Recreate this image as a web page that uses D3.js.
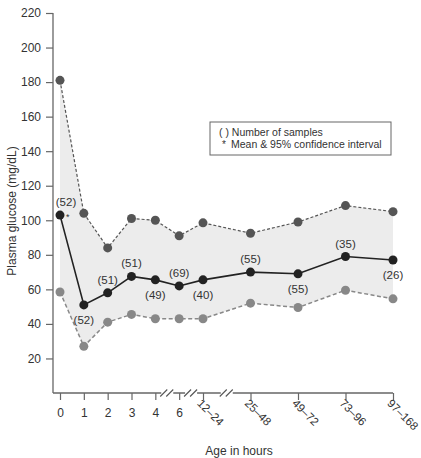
<!DOCTYPE html>
<html>
<head>
<meta charset="utf-8">
<script src="https://cdn.jsdelivr.net/npm/d3@7"></script>
<style>
  body { margin: 0; background: #fff; }
  text { font-family: "Liberation Sans", Arial, sans-serif; fill: #333; }
</style>
</head>
<body>
<div id="container"></div>
<script>
let w = 421;
let h = 458;

// DATA
let ages = ["0", "1", "2", "3", "4", "6", "12–24", "25–48", "49–72", "73–96", "97–168"];
let meanGlucose = [103, 51, 58, 67.5, 65.5, 62, 65.5, 70, 69, 79, 77];
let upperCI = [181, 104, 84, 101, 100, 91, 98.5, 92.5, 99, 108.5, 105];
let lowerCI = [58.5, 27, 41, 45.5, 43, 43, 43, 52, 49.5, 59.5, 54.5];
let sampleCounts = [52, 52, 51, 51, 49, 69, 40, 55, 55, 35, 26];
let countAbove = [true, false, true, true, false, true, false, true, false, true, false];
let yTicks = [20, 40, 60, 80, 100, 120, 140, 160, 180, 200, 220];

let viz = d3.select("#container").append("svg")
    .attr("width", w)
    .attr("height", h)
    .style("display", "block")
;

// SCALES - hours compress after "12-24" so the scale is piecewise
let xScale = d3.scaleLinear().domain([0, 6, 10]).range([60, 203, 393]);
let yScale = d3.scaleLinear().domain([0, 220]).range([393, 13]);

let idx = d3.range(ages.length);

// band between the confidence limits
let bandMaker = d3.area()
    .x(function(d){ return xScale(d); })
    .y0(function(d){ return yScale(lowerCI[d]); })
    .y1(function(d){ return yScale(upperCI[d]); })
;
viz.append("path")
    .datum(idx)
    .attr("d", bandMaker)
    .attr("fill", "#ececec")
;

// AXES
let yAxis = d3.axisLeft(yScale).tickValues(yTicks).tickSize(7).tickSizeOuter(0).tickPadding(5);
let yG = viz.append("g").attr("transform", "translate(53,0)").call(yAxis);
yG.select(".domain").attr("stroke", "#666").attr("stroke-width", 1.3)
    .attr("d", "M0," + yScale(220) + "V" + yScale(0));
yG.selectAll(".tick line").attr("stroke", "#666").attr("stroke-width", 1.2);
yG.selectAll(".tick text").style("font-size", "12px").attr("fill", "#333");

let xAxis = d3.axisBottom(xScale).tickValues(idx).tickSize(7).tickSizeOuter(0)
    .tickFormat(function(d){ return ages[d]; });
let xG = viz.append("g").attr("transform", "translate(0,393)").call(xAxis);
xG.select(".domain").attr("stroke", "#666").attr("stroke-width", 1.3)
    .attr("d", "M53,0H" + xScale(10));
xG.selectAll(".tick line").attr("stroke", "#666").attr("stroke-width", 1.2);
xG.selectAll(".tick text")
    .style("font-size", "12px")
    .attr("fill", "#333")
    .each(function(d){
      let t = d3.select(this);
      if (d >= 6) {
        t.attr("text-anchor", "start")
          .style("font-size", "11.5px")
          .attr("dy", null)
          .attr("y", 0)
          .attr("transform", "translate(-7,11) rotate(45)");
      } else {
        t.attr("y", 15).attr("dy", "0.71em");
      }
    })
;

// axis breaks
[4.5, 5.5, 6.5].forEach(function(b){
  let bx = xScale(b);
  xG.append("rect").attr("x", bx - 6).attr("y", -2).attr("width", 12).attr("height", 4).attr("fill", "#fff");
  [-3.5, 2.5].forEach(function(o){
    xG.append("line")
      .attr("x1", bx + o - 3.5).attr("y1", 3.5)
      .attr("x2", bx + o + 3.5).attr("y2", -3.5)
      .attr("stroke", "#555").attr("stroke-width", 1.1);
  });
});

// axis titles
viz.append("text")
    .attr("x", 239).attr("y", 455)
    .attr("text-anchor", "middle")
    .style("font-size", "12px")
    .text("Age in hours");
viz.append("text")
    .attr("transform", "translate(16,211) rotate(-90)")
    .attr("text-anchor", "middle")
    .style("font-size", "12px")
    .text("Plasma glucose (mg/dL)");

// LINES
let lineMaker = function(vals){
  return d3.line()
    .x(function(d){ return xScale(d); })
    .y(function(d){ return yScale(vals[d]); })(idx);
};

viz.append("path").attr("d", lineMaker(upperCI))
    .attr("fill", "none").attr("stroke", "#555").attr("stroke-width", 1.2).attr("stroke-dasharray", "3,2");
viz.append("path").attr("d", lineMaker(lowerCI))
    .attr("fill", "none").attr("stroke", "#888").attr("stroke-width", 1.5).attr("stroke-dasharray", "4,2.5");
viz.append("path").attr("d", lineMaker(meanGlucose))
    .attr("fill", "none").attr("stroke", "#222").attr("stroke-width", 1.6);

// POINTS
function drawPoints(vals, color, cls){
  viz.selectAll("." + cls).data(idx).enter()
    .append("circle")
      .attr("class", cls)
      .attr("cx", function(d){ return xScale(d); })
      .attr("cy", function(d){ return yScale(vals[d]); })
      .attr("r", 4.5)
      .attr("fill", color)
  ;
}
drawPoints(upperCI, "#555", "upper");
drawPoints(lowerCI, "#888", "lower");
drawPoints(meanGlucose, "#222", "mean");

// sample counts
viz.selectAll(".count").data(idx).enter()
  .append("text")
    .attr("class", "count")
    .attr("x", function(d){ return d == 0 ? xScale(d) + 6 : xScale(d); })
    .attr("y", function(d){
      return countAbove[d] ? yScale(meanGlucose[d]) - 9 : yScale(meanGlucose[d]) + 19;
    })
    .attr("text-anchor", "middle")
    .style("font-size", "11.5px")
    .text(function(d){ return "(" + sampleCounts[d] + ")"; })
;
viz.append("text")
    .attr("x", xScale(0) + 6).attr("y", yScale(meanGlucose[0]) + 5)
    .style("font-size", "9px")
    .text("*");

// LEGEND
let legend = viz.append("g").attr("transform", "translate(210,122)");
legend.append("rect")
    .attr("width", 181).attr("height", 33)
    .attr("fill", "#fff").attr("stroke", "#666").attr("stroke-width", 1);
legend.append("text").attr("x", 9).attr("y", 14).style("font-size", "10.5px")
    .text("( ) Number of samples");
legend.append("text").attr("x", 12).attr("y", 26).style("font-size", "10px")
    .text("*");
legend.append("text").attr("x", 21).attr("y", 26).style("font-size", "10.5px")
    .text("Mean & 95% confidence interval");
</script>
</body>
</html>
